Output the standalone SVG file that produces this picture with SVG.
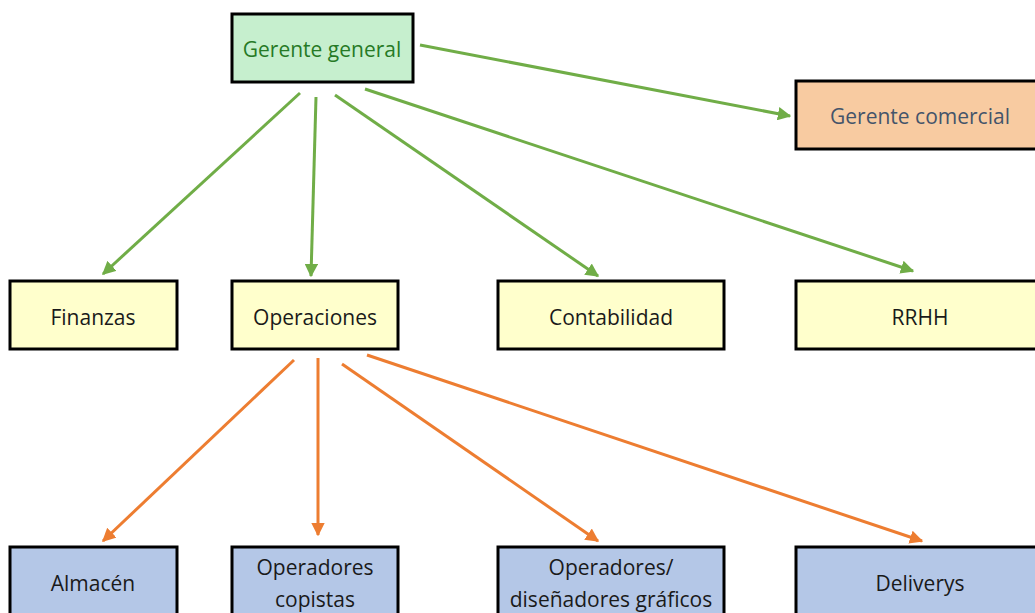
<svg xmlns="http://www.w3.org/2000/svg" width="1035" height="613" viewBox="0 0 1035 613">
<defs>
<style>
.box{stroke:#000;stroke-width:3}
.g{fill:#c6efce}.o{fill:#f8cba1}.y{fill:#ffffcc}.b{fill:#b4c7e7}
text{font-family:"Open Sans","Liberation Sans",Arial,sans-serif;font-size:21px;text-anchor:middle;dominant-baseline:central;fill:#1a1a1a}
.gl{stroke:#70ad47;stroke-width:3;fill:none}
.ol{stroke:#ed7d31;stroke-width:3;fill:none}
</style>
<marker id="ag" viewBox="0 0 10 10" refX="9" refY="5" markerWidth="4.5" markerHeight="4.5" orient="auto" markerUnits="strokeWidth"><path d="M0,0L10,5L0,10z" fill="#70ad47"/></marker>
<marker id="ao" viewBox="0 0 10 10" refX="9" refY="5" markerWidth="4.5" markerHeight="4.5" orient="auto" markerUnits="strokeWidth"><path d="M0,0L10,5L0,10z" fill="#ed7d31"/></marker>
</defs>
<rect width="1035" height="613" fill="#fff"/>
<g id="connectors">
<line class="gl" x1="420" y1="45" x2="790" y2="116" marker-end="url(#ag)"/>
<line class="gl" x1="300" y1="93" x2="103" y2="274" marker-end="url(#ag)"/>
<line class="gl" x1="316" y1="97" x2="311" y2="276" marker-end="url(#ag)"/>
<line class="gl" x1="335" y1="95" x2="598" y2="276" marker-end="url(#ag)"/>
<line class="gl" x1="365" y1="89" x2="913" y2="271" marker-end="url(#ag)"/>
<line class="ol" x1="294" y1="360" x2="103" y2="541" marker-end="url(#ao)"/>
<line class="ol" x1="318" y1="358" x2="318" y2="535" marker-end="url(#ao)"/>
<line class="ol" x1="342" y1="364" x2="598" y2="541" marker-end="url(#ao)"/>
<line class="ol" x1="367" y1="355" x2="922" y2="541" marker-end="url(#ao)"/>
</g>
<g id="gerente-general"><rect class="box g" x="232" y="14" width="181" height="68"/><text x="322" y="49" style="fill:#267a26">Gerente general</text></g>
<g id="gerente-comercial"><rect class="box o" x="796" y="81" width="245" height="68"/><text x="920" y="116" style="fill:#44546a">Gerente comercial</text></g>
<g id="finanzas"><rect class="box y" x="10" y="281" width="167" height="68"/><text x="93" y="317">Finanzas</text></g>
<g id="operaciones"><rect class="box y" x="232" y="281" width="166" height="68"/><text x="315" y="317">Operaciones</text></g>
<g id="contabilidad"><rect class="box y" x="498" y="281" width="226" height="68"/><text x="611" y="317">Contabilidad</text></g>
<g id="rrhh"><rect class="box y" x="796" y="281" width="245" height="68"/><text x="920" y="317">RRHH</text></g>
<g id="almacen"><rect class="box b" x="10" y="547" width="167" height="80"/><text x="93" y="583">Almacén</text></g>
<g id="operadores-copistas"><rect class="box b" x="232" y="547" width="166" height="80"/><text x="315" y="567">Operadores</text><text x="315" y="599">copistas</text></g>
<g id="operadores-disenadores"><rect class="box b" x="498" y="547" width="226" height="80"/><text x="611" y="567">Operadores/</text><text x="611" y="599">diseñadores gráficos</text></g>
<g id="deliverys"><rect class="box b" x="796" y="547" width="245" height="80"/><text x="920" y="583">Deliverys</text></g>
</svg>
